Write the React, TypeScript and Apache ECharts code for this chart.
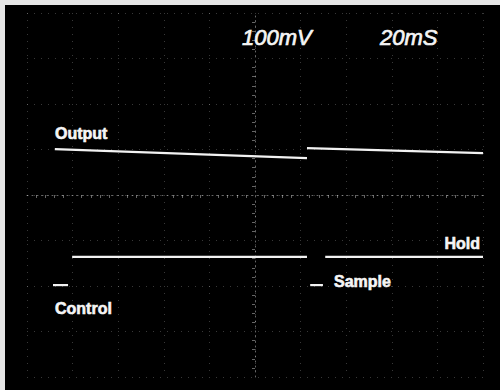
import React, { useEffect, useRef } from "react";
import * as echarts from "echarts";

// Oscilloscope screen: x in divisions (-5..5), y in divisions (-4..4)
const outputStart = [-4.39, 1.14];
const outputEnd = [1.14, 5.0];
const outputStartLevel = [1.01, 1.03];
const outputEndLevel = [0.81, 0.92];

const controlStart = [-4.43, -4.01, 1.21, 1.54];
const controlEnd = [-4.1, 1.14, 1.49, 5.0];
const controlLevel = [-1.98, -1.36, -1.98, -1.36];

const scaleLabels = ["100mV", "20mS"];
const traceLabels = ["Output", "Hold", "Sample", "Control"];

export default function App() {
  const ref = useRef<HTMLDivElement>(null);
  useEffect(() => {
    if (!ref.current) return;
    const chart = echarts.init(ref.current, undefined, { renderer: "svg" });
    const lineStyle = { color: "#f2f2f2", width: 2.2 };
    const series: any[] = [];
    outputStart.forEach((s, i) => {
      series.push({
        type: "line",
        name: "Output" + i,
        data: [
          [s, outputStartLevel[i]],
          [outputEnd[i], outputEndLevel[i]],
        ],
        symbol: "none",
        silent: true,
        lineStyle,
        z: 5,
      });
    });
    controlStart.forEach((s, i) => {
      series.push({
        type: "line",
        name: "Control" + i,
        data: [
          [s, controlLevel[i]],
          [controlEnd[i], controlLevel[i]],
        ],
        symbol: "none",
        silent: true,
        lineStyle,
        z: 5,
      });
    });
    const gridLine = {
      show: true,
      lineStyle: { color: "rgba(255,255,255,0.22)", width: 1, type: [1, 6] },
    };
    const centerLine = {
      show: true,
      onZero: true,
      lineStyle: { color: "rgba(255,255,255,0.4)", width: 1, type: [1, 4] },
    };
    const labelStyle = {
      fill: "#f5f5f5",
      stroke: "#f5f5f5",
      lineWidth: 0.6,
      fontFamily: "Liberation Sans, Arial, sans-serif",
      fontWeight: "bold",
      fontSize: 16,
    };
    const scaleStyle = {
      fill: "#f5f5f5",
      stroke: "#f5f5f5",
      lineWidth: 0.7,
      fontFamily: "Liberation Sans, Arial, sans-serif",
      fontStyle: "italic",
      fontSize: 22,
    };
    chart.setOption({
      animation: false,
      backgroundColor: "#000000",
      grid: { left: 22, right: 17, top: 8, bottom: 13, containLabel: false },
      xAxis: {
        type: "value",
        min: -5,
        max: 5,
        interval: 1,
        axisLine: centerLine,
        axisTick: { show: false },
        minorTick: { show: true, splitNumber: 5, length: 3, lineStyle: { color: "rgba(255,255,255,0.4)" } },
        axisLabel: { show: false },
        splitLine: gridLine,
      },
      yAxis: {
        type: "value",
        min: -4,
        max: 4,
        interval: 1,
        axisLine: centerLine,
        axisTick: { show: false },
        minorTick: { show: true, splitNumber: 5, length: 3, lineStyle: { color: "rgba(255,255,255,0.4)" } },
        axisLabel: { show: false },
        splitLine: gridLine,
      },
      graphic: [
        { type: "text", x: 237, y: 21, style: { ...scaleStyle, text: scaleLabels[0] } },
        { type: "text", x: 375, y: 21, style: { ...scaleStyle, text: scaleLabels[1] } },
        { type: "text", x: 50, y: 120, style: { ...labelStyle, text: traceLabels[0] } },
        { type: "text", x: 475, y: 230, style: { ...labelStyle, text: traceLabels[1], align: "right" } },
        { type: "text", x: 329, y: 268, style: { ...labelStyle, text: traceLabels[2] } },
        { type: "text", x: 50, y: 295, style: { ...labelStyle, text: traceLabels[3] } },
      ],
      series,
    });
    return () => chart.dispose();
  }, []);
  return (
    <div
      style={{
        position: "fixed",
        left: 0,
        top: 0,
        width: 500,
        height: 390,
        background: "#e6e6e6",
      }}
    >
      <div
        ref={ref}
        style={{ position: "absolute", left: 5, top: 5, width: 495, height: 385 }}
      />
    </div>
  );
}
